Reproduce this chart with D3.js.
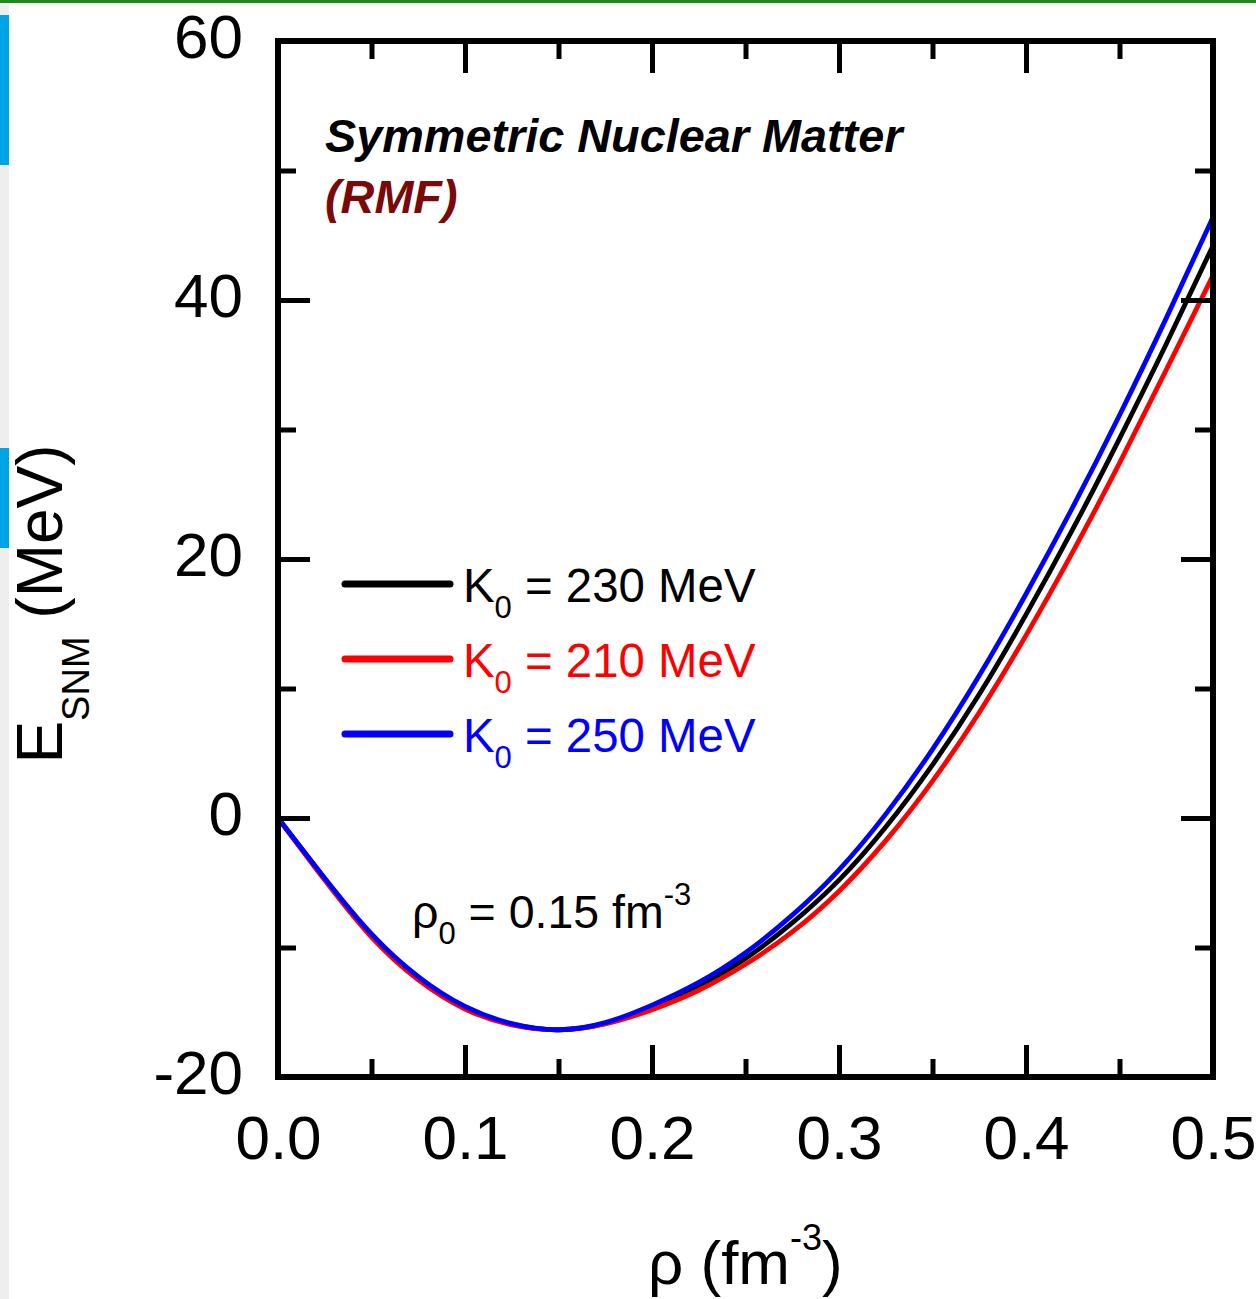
<!DOCTYPE html>
<html>
<head>
<meta charset="utf-8">
<script src="https://cdn.jsdelivr.net/npm/d3@7"></script>
<style>
  html, body { margin: 0; padding: 0; background: #fff; }
  svg { display: block; }
  text { font-family: "Liberation Sans", Arial, Helvetica, sans-serif; }
</style>
</head>
<body>
<svg id="chart" width="1256" height="1299"></svg>
<script>
// ---------- data ----------
const rho = [0, 0.025, 0.05, 0.075, 0.1, 0.125, 0.15, 0.175, 0.2, 0.225, 0.25,
             0.275, 0.3, 0.325, 0.35, 0.375, 0.4, 0.425, 0.45, 0.475, 0.5];
const eK230 = [0, -4.7, -9.05, -12.35, -14.65, -15.92, -16.35, -15.86, -14.62, -12.98, -10.85,
               -8.1, -4.8, -0.7, 4.1, 9.55, 15.7, 22.3, 29.3, 36.6, 44.2];
const eK210 = [0, -4.8, -9.2, -12.5, -14.75, -15.98, -16.35, -15.9, -14.8, -13.3, -11.3,
               -8.8, -5.65, -1.75, 2.85, 8.15, 14.1, 20.55, 27.4, 34.6, 41.9];
const eK250 = [0, -4.65, -8.95, -12.25, -14.55, -15.88, -16.35, -15.8, -14.45, -12.7, -10.4,
               -7.5, -4.0, 0.3, 5.3, 11.0, 17.3, 24.0, 31.1, 38.6, 46.4];

const seriesNames = ["230", "210", "250"];
const seriesColors = ["#000000", "#ff0000", "#0000ff"];
const seriesValues = [eK230, eK210, eK250];

const yMajorTicks = [-20, 0, 20, 40, 60];
const yMinorTicks = [-10, 10, 30, 50];
const xMajorTicks = [0, 0.1, 0.2, 0.3, 0.4, 0.5];
const xMinorTicks = [0.05, 0.15, 0.25, 0.35, 0.45];

// ---------- layout ----------
const L = 278, R = 1213, T = 41, B = 1077;
const svg = d3.select("#chart");

// screenshot remnants at edges
svg.append("rect").attr("x", 0).attr("y", 0).attr("width", 9).attr("height", 1299).attr("fill", "#eeeeee");
svg.append("rect").attr("x", 0).attr("y", 15).attr("width", 9).attr("height", 150).attr("fill", "#00a4e4");
svg.append("rect").attr("x", 0).attr("y", 448).attr("width", 9).attr("height", 100).attr("fill", "#00a4e4");
svg.append("rect").attr("x", 0).attr("y", 0).attr("width", 1256).attr("height", 3).attr("fill", "#1e8a1e");

const x = d3.scaleLinear().domain([0, 0.5]).range([L, R]);
const y = d3.scaleLinear().domain([-20, 60]).range([B, T]);

// ---------- curves ----------
const line = d3.line()
  .x(d => x(d[0]))
  .y(d => y(d[1]))
  .curve(d3.curveNatural);

const plot = svg.append("g");
[0, 1, 2].forEach(i => {
  const pts = rho.map((r, k) => [r, seriesValues[i][k]]);
  plot.append("path")
    .datum(pts)
    .attr("d", line)
    .attr("fill", "none")
    .attr("stroke", seriesColors[i])
    .attr("stroke-width", 4.8)
    .attr("stroke-linejoin", "round");
});

// ---------- axes (inward ticks) ----------
function styleAxis(g, fontSize) {
  g.select(".domain").remove();
  g.selectAll(".tick line").attr("stroke", "#000").attr("stroke-width", 5);
  g.selectAll(".tick text").attr("fill", "#000").style("font-size", fontSize + "px")
    .style("font-family", '"Liberation Sans", Arial, sans-serif');
}

const fmtX = d3.format(".1f");
const fmtY = d => String(d); // plain hyphen-minus as in the original
const gB = svg.append("g").attr("transform", `translate(0,${B})`)
  .call(d3.axisBottom(x).tickValues(xMajorTicks).tickSize(-32).tickPadding(38).tickFormat(fmtX));
styleAxis(gB, 62);
const gBm = svg.append("g").attr("transform", `translate(0,${B})`)
  .call(d3.axisBottom(x).tickValues(xMinorTicks).tickSize(-18).tickFormat(""));
styleAxis(gBm, 62);

const gT = svg.append("g").attr("transform", `translate(0,${T})`)
  .call(d3.axisTop(x).tickValues(xMajorTicks).tickSize(-32).tickFormat(""));
styleAxis(gT, 62);
const gTm = svg.append("g").attr("transform", `translate(0,${T})`)
  .call(d3.axisTop(x).tickValues(xMinorTicks).tickSize(-18).tickFormat(""));
styleAxis(gTm, 62);

const gL = svg.append("g").attr("transform", `translate(${L},0)`)
  .call(d3.axisLeft(y).tickValues(yMajorTicks).tickSize(-32).tickPadding(35).tickFormat(fmtY));
styleAxis(gL, 62);
gL.selectAll(".tick text").attr("dy", "0.26em");
const gLm = svg.append("g").attr("transform", `translate(${L},0)`)
  .call(d3.axisLeft(y).tickValues(yMinorTicks).tickSize(-18).tickFormat(""));
styleAxis(gLm, 62);

const gR = svg.append("g").attr("transform", `translate(${R},0)`)
  .call(d3.axisRight(y).tickValues(yMajorTicks).tickSize(-32).tickFormat(""));
styleAxis(gR, 62);
const gRm = svg.append("g").attr("transform", `translate(${R},0)`)
  .call(d3.axisRight(y).tickValues(yMinorTicks).tickSize(-18).tickFormat(""));
styleAxis(gRm, 62);

// frame
svg.append("rect")
  .attr("x", L).attr("y", T).attr("width", R - L).attr("height", B - T)
  .attr("fill", "none").attr("stroke", "#000").attr("stroke-width", 6);

// ---------- axis titles ----------
const yt = svg.append("text")
  .attr("transform", "translate(62,604) rotate(-90)")
  .attr("text-anchor", "middle")
  .style("font-size", "64px").attr("fill", "#000");
yt.append("tspan").text("E");
yt.append("tspan").text("SNM").style("font-size", "38px").attr("dy", 27);
yt.append("tspan").text(" (MeV)").attr("dy", -27);

const xt = svg.append("text")
  .attr("x", 648).attr("y", 1284)
  .style("font-size", "62px").attr("fill", "#000");
xt.append("tspan").text("ρ (fm");
xt.append("tspan").text("-3").style("font-size", "36px").attr("dy", -34);
xt.append("tspan").text(")").attr("dy", 34);

// ---------- annotations ----------
svg.append("text").attr("x", 325).attr("y", 152)
  .style("font-size", "46.8px").style("font-weight", "bold").style("font-style", "italic")
  .attr("fill", "#000").text("Symmetric Nuclear Matter");
svg.append("text").attr("x", 325).attr("y", 213)
  .style("font-size", "46.8px").style("font-weight", "bold").style("font-style", "italic")
  .attr("fill", "#7a0a0a").text("(RMF)");

const rt = svg.append("text").attr("x", 412).attr("y", 928)
  .style("font-size", "46.5px").attr("fill", "#000");
rt.append("tspan").text("ρ");
rt.append("tspan").text("0").style("font-size", "31px").attr("dy", 16);
rt.append("tspan").text(" = 0.15 fm").attr("dy", -16);
rt.append("tspan").text("-3").style("font-size", "31px").attr("dy", -23);

// ---------- legend ----------
const legendY = [584, 659, 734];
seriesNames.forEach((name, i) => {
  svg.append("line")
    .attr("x1", 345).attr("x2", 450)
    .attr("y1", legendY[i]).attr("y2", legendY[i])
    .attr("stroke", seriesColors[i]).attr("stroke-width", 7).attr("stroke-linecap", "round");
  const t = svg.append("text").attr("x", 463).attr("y", legendY[i] + 18)
    .style("font-size", "47.4px").attr("fill", seriesColors[i]);
  t.append("tspan").text("K");
  t.append("tspan").text("0").style("font-size", "31px").attr("dy", 16);
  t.append("tspan").text(" = " + name + " MeV").attr("dy", -16);
});
</script>
</body>
</html>
